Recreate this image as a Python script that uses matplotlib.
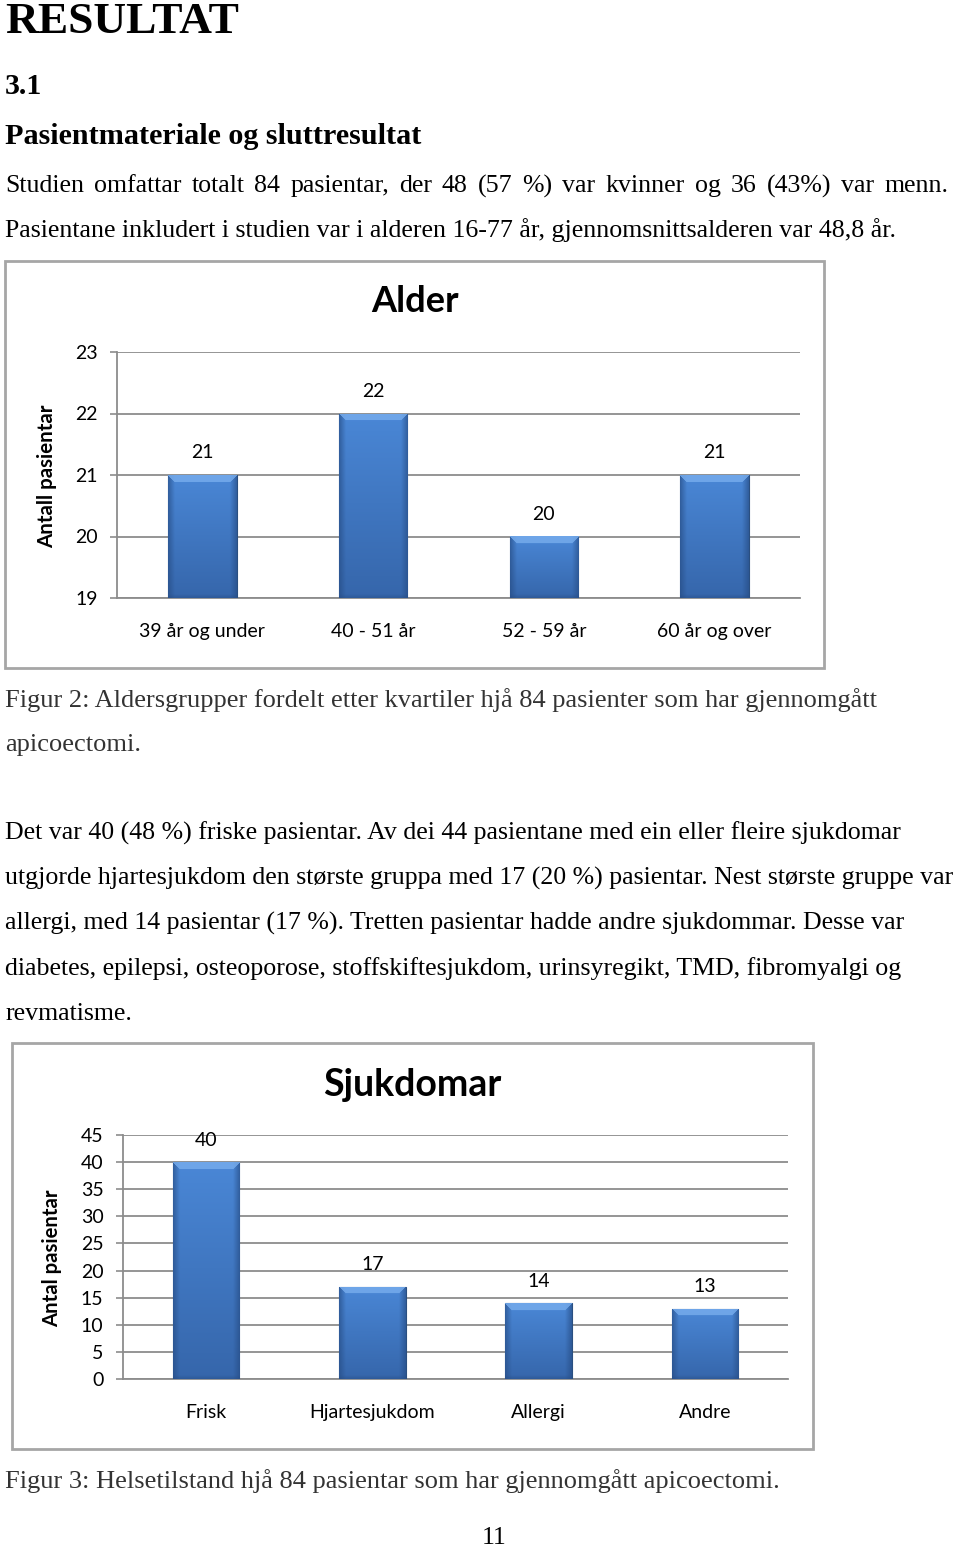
import numpy as np
import matplotlib
matplotlib.use("Agg")
import matplotlib.pyplot as plt
from matplotlib.patches import Rectangle

# data
alder_kat = ["39 år og under", "40 - 51 år", "52 - 59 år", "60 år og over"]
alder_ant = [21, 22, 20, 21]
alder_ticks = [19, 20, 21, 22, 23]

sjuk_kat = ["Frisk", "Hjartesjukdom", "Allergi", "Andre"]
sjuk_ant = [40, 17, 14, 13]
sjuk_ticks = [0, 5, 10, 15, 20, 25, 30, 35, 40, 45]

W, H = 960, 1550
fig = plt.figure(figsize=(W / 100, H / 100), dpi=100)

SERIF = "Liberation Serif"
SANS = "Lato"
BODY = 18.6
CAP = 19


def ptxt(x, y, s, **kw):
    # text at page pixel position
    kw.setdefault("family", SERIF)
    kw.setdefault("va", "center")
    return fig.text(x / W, 1 - y / H, s, **kw)


def justify(x0, x1, y, s, **kw):
    # spread the words of one line between x0 and x1
    r = fig.canvas.get_renderer()
    words = s.split()
    ts = [ptxt(0, y, w_, **kw) for w_ in words]
    widths = [t.get_window_extent(r).width for t in ts]
    gap = (x1 - x0 - sum(widths)) / (len(words) - 1)
    x = x0
    for t, wd in zip(ts, widths):
        t.set_x(x / W)
        x += wd + gap


def add_ax(x0, y0, x1, y1):
    return fig.add_axes([x0 / W, 1 - y1 / H, (x1 - x0) / W, (y1 - y0) / H])


def box(x0, y0, x1, y1):
    fig.patches.append(Rectangle((x0 / W, 1 - y1 / H), (x1 - x0) / W, (y1 - y0) / H,
                                 transform=fig.transFigure, fill=False,
                                 edgecolor="#a6a6a6", linewidth=2))


def fancy_bars(ax, vals, ax_h_px, ax_w_px):
    x = np.arange(len(vals))
    bars = ax.bar(x, vals, 0.4, color="#3f75bf", edgecolor="#2a4f80", linewidth=0.8, zorder=3)
    ylo, yhi = ax.get_ylim()
    xlo, xhi = ax.get_xlim()
    for b in bars:
        x0, w = b.get_x(), b.get_width()
        y0 = max(b.get_y(), ylo)
        y1 = b.get_y() + b.get_height()
        npx = max(int(w / (xhi - xlo) * ax_w_px), 4)
        npy = max(int((y1 - y0) / (yhi - ylo) * ax_h_px), 4)
        xx, yy = np.meshgrid(np.arange(npx) + 0.5, np.arange(npy) + 0.5)
        v = yy / npy  # 0 top, 1 bottom
        top = np.array([0.29, 0.53, 0.84])
        bot = np.array([0.21, 0.40, 0.67])
        img = top[None, None, :] * (1 - v[..., None]) + bot[None, None, :] * v[..., None]
        dside = np.minimum(xx, npx - xx)
        dtop = yy
        dbot = npy - yy
        dark = np.array([0.15, 0.30, 0.52])
        side = np.clip(1 - dside / 7.0, 0, 1)[..., None] * 0.7
        img = img * (1 - side) + dark * side
        bside = np.clip(1 - dbot / 4.0, 0, 1)[..., None] * 0.5
        img = img * (1 - bside) + dark * bside
        light = np.array([0.47, 0.68, 0.93])
        bev = (dtop < 7) & (dtop <= dside)
        img[bev] = light * 0.8 + img[bev] * 0.2
        im = ax.imshow(img, extent=[x0, x0 + w, y0, y1], aspect="auto",
                       origin="upper", zorder=3.5, interpolation="bilinear")
        im.set_clip_path(b)
    ax.set_xlim(xlo, xhi)
    ax.set_ylim(ylo, yhi)
    for xi, v in zip(x, vals):
        ax.annotate(str(v), (xi, v), xytext=(0, 22), textcoords="offset pixels",
                    ha="center", va="center", fontsize=14, family=SANS, color="black")


def style_ax(ax, ticks, cats):
    ax.set_xlim(-0.5, len(cats) - 0.5)
    ax.set_ylim(ticks[0], ticks[-1])
    ax.set_yticks(ticks)
    ax.set_xticks(range(len(cats)))
    ax.set_xticklabels(cats, family=SANS, fontsize=14)
    ax.set_yticklabels([str(t) for t in ticks], family=SANS, fontsize=14)
    ax.tick_params(axis="x", length=0, pad=18)
    ax.tick_params(axis="y", length=5, width=1.2, color="#8c8c8c", pad=9)
    ax.grid(axis="y", color="#8c8c8c", linewidth=1.3, zorder=0)
    ax.set_axisbelow(True)
    for s in ["top", "right"]:
        ax.spines[s].set_visible(False)
    for s in ["left", "bottom"]:
        ax.spines[s].set_color("#8c8c8c")
        ax.spines[s].set_linewidth(1.3)
    ax.patch.set_alpha(0)


# page text
ptxt(5, 33, "RESULTAT", fontsize=32.7, weight="bold", va="baseline")
ptxt(5, 86, "3.1", fontsize=21.5, weight="bold")
ptxt(5, 136, "Pasientmateriale og sluttresultat", fontsize=21.7, weight="bold")
justify(5, 948, 186, "Studien omfattar totalt 84 pasientar, der 48 (57 %) var kvinner og 36 (43%) var menn.",
        fontsize=BODY)
ptxt(5, 230, "Pasientane inkludert i studien var i alderen 16-77 år, gjennomsnittsalderen var 48,8 år.",
     fontsize=BODY)

# chart 1
box(5, 261, 824, 668)
ax1 = add_ax(117, 352, 800, 598)
style_ax(ax1, alder_ticks, alder_kat)
fancy_bars(ax1, alder_ant, 246, 683)
ptxt(415, 302, "Alder", family=SANS, fontsize=26, weight="bold", ha="center")
ptxt(47, 476, "Antall pasientar", family=SANS, fontsize=14.8, weight="bold",
     ha="center", rotation=90)

ptxt(5, 700, "Figur 2: Aldersgrupper fordelt etter kvartiler hjå 84 pasienter som har gjennomgått",
     fontsize=CAP, color="#333333")
ptxt(5, 745, "apicoectomi.", fontsize=CAP, color="#333333")

para = ["Det var 40 (48 %) friske pasientar. Av dei 44 pasientane med ein eller fleire sjukdomar",
        "utgjorde hjartesjukdom den største gruppa med 17 (20 %) pasientar. Nest største gruppe var",
        "allergi, med 14 pasientar (17 %). Tretten pasientar hadde andre sjukdommar. Desse var",
        "diabetes, epilepsi, osteoporose, stoffskiftesjukdom, urinsyregikt, TMD, fibromyalgi og",
        "revmatisme."]
for i, line in enumerate(para):
    ptxt(5, 833 + i * 45.3, line, fontsize=BODY)

# chart 2
box(12, 1043, 813, 1449)
ax2 = add_ax(123, 1135, 788, 1379)
style_ax(ax2, sjuk_ticks, sjuk_kat)
fancy_bars(ax2, sjuk_ant, 244, 665)
ptxt(412, 1085, "Sjukdomar", family=SANS, fontsize=27, weight="bold", ha="center")
ptxt(52, 1258, "Antal pasientar", family=SANS, fontsize=14.6, weight="bold",
     ha="center", rotation=90)

ptxt(5, 1481, "Figur 3: Helsetilstand hjå 84 pasientar som har gjennomgått apicoectomi.",
     fontsize=CAP, color="#333333")
ptxt(494, 1538, "11", fontsize=BODY, ha="center")

fig.savefig("out.png", dpi=100)
